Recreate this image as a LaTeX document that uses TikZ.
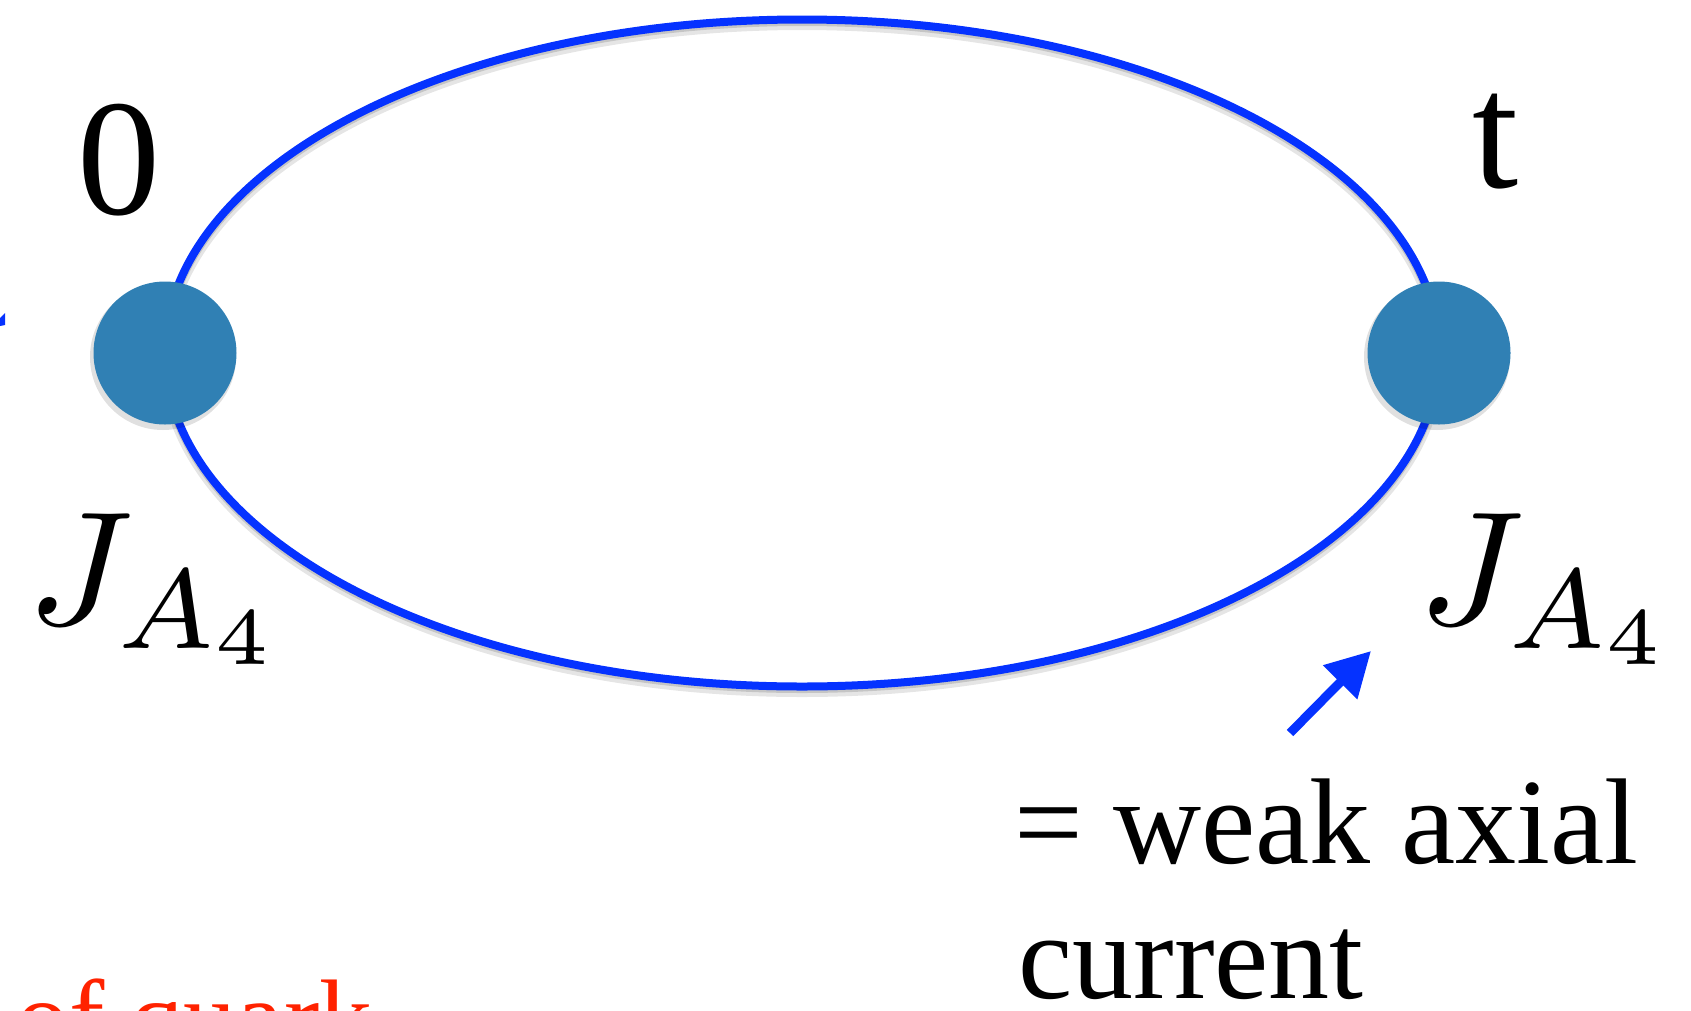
\documentclass[tikz,border=0pt]{standalone}
\usepackage{fix-cm}
\usepackage[no-math]{fontspec}
\setmainfont{Liberation Serif}
\usetikzlibrary{arrows.meta}
\definecolor{lineblue}{RGB}{5,50,255}
\definecolor{dotblue}{RGB}{48,128,180}
\definecolor{redtxt}{RGB}{255,34,0}
\tikzset{
  dotnode/.style={circle,fill=dotblue,minimum size=143pt,inner sep=0pt},
  bigtxt/.style={anchor=base west,inner sep=0pt,font=\fontsize{166}{170}\selectfont},
  mathtxt/.style={anchor=base west,inner sep=0pt,font=\fontsize{10}{12}\selectfont,scale=16.2,transform shape},
  notetxt/.style={anchor=base west,inner sep=0pt,font=\fontsize{122}{136}\selectfont},
  loopline/.style={draw=lineblue,line width=8pt},
  shadowline/.style={draw=black,line width=12pt,opacity=0.10},
  pointer/.style={draw=lineblue,line width=9pt,-{Triangle[length=44pt,width=46pt]}},
}
\begin{document}
\begin{tikzpicture}[x=1pt,y=-1pt]
\useasboundingbox (0,0) rectangle (1691,1010);
% dots positions
\coordinate (Lc) at (165,353);
\coordinate (Rc) at (1439,353);
% shadow of the loop
\begin{scope}[yshift=-5pt]
\draw[shadowline] (802,352.5) ellipse [x radius=637pt,y radius=333.5pt];
\end{scope}
\begin{scope}[yshift=-3pt]
\draw[draw=black,line width=8pt,opacity=0.14] (802,352.5) ellipse [x radius=637pt,y radius=333.5pt];
\end{scope}
% loop (two propagators from dot to dot)
\draw[loopline] (Lc) arc[start angle=180,end angle=0,x radius=637pt,y radius=333.5pt];
\draw[loopline] (Rc) arc[start angle=0,end angle=-180,x radius=637pt,y radius=333.5pt];
% dot shadows
\fill[black,opacity=0.12] (163,357) circle[radius=73pt];
\fill[black,opacity=0.12] (1437,357) circle[radius=73pt];
% dots
\node[dotnode] (L) at (Lc) {};
\node[dotnode] (R) at (Rc) {};
% labels
\node[bigtxt] (zero) at (77,214) {0};
\node[bigtxt] (tlab) at (1472,187) {t};
\node[mathtxt] (JL) at (24,624) {$J_{A_4}$};
\node[mathtxt] (JR) at (1415,624) {$J_{A_4}$};
\node[notetxt] (note1) at (1014,863) {= weak axial};
\node[notetxt] (note2) at (1018,998) {current};
% pointer arrow
\coordinate (ptail) at (1290,733);
\coordinate (phead) at (1371,651);
\draw[pointer] (ptail) -- (phead);
% clipped blue mark at left edge
\fill[lineblue] (0,318) -- (5,313) -- (5,325) -- (0,326) -- cycle;
% clipped red text at the bottom
\begin{scope}
\clip (0,0) rectangle (1691,1010);
\node[anchor=base west,inner sep=0pt,text=redtxt,font=\fontsize{106}{110}\selectfont] (redtext) at (16,1053) {of quark};
\end{scope}
\end{tikzpicture}
\end{document}
